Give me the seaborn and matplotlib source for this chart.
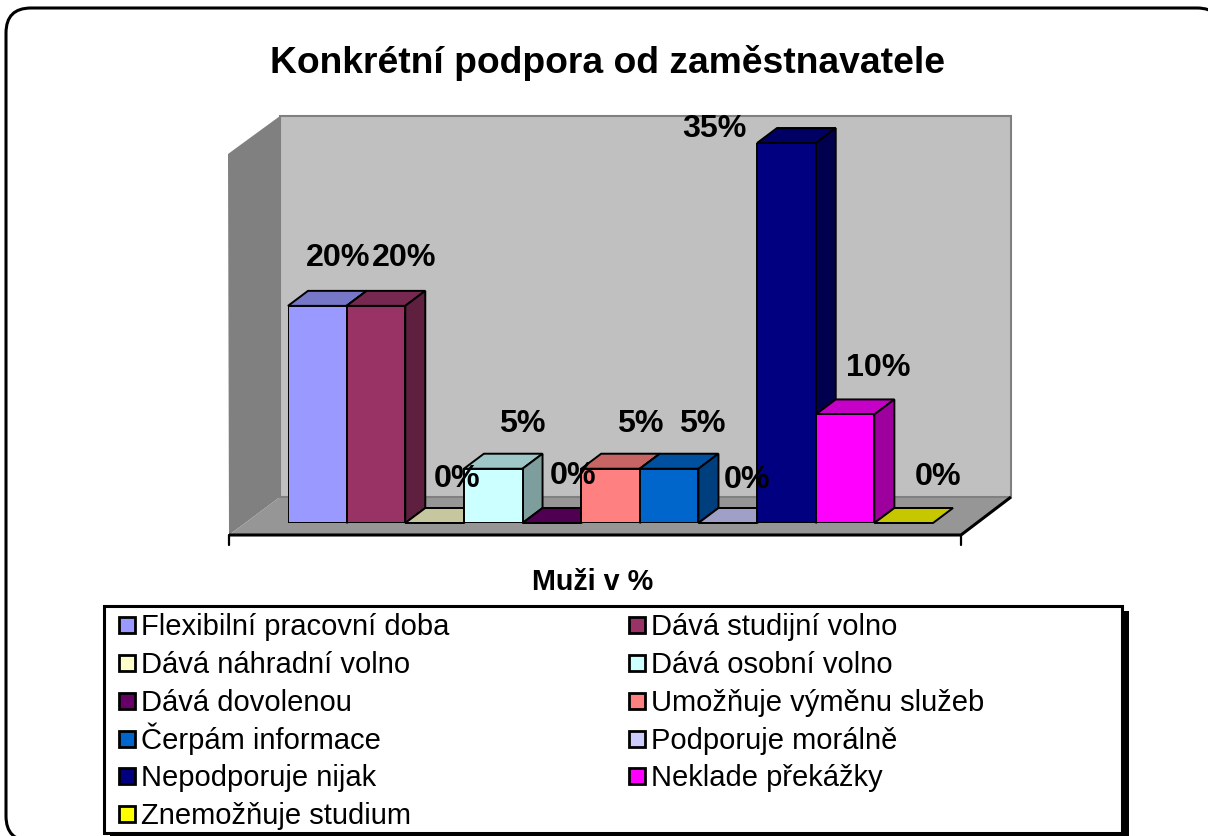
import matplotlib
matplotlib.use('Agg')
import matplotlib.pyplot as plt
import matplotlib.patches as mpatches
import matplotlib.colors as mcolors
from matplotlib.legend_handler import HandlerPatch
import seaborn as sns

categories = ['Flexibilní pracovní doba', 'Dává studijní volno', 'Dává náhradní volno',
              'Dává osobní volno', 'Dává dovolenou', 'Umožňuje výměnu služeb',
              'Čerpám informace', 'Podporuje morálně', 'Nepodporuje nijak',
              'Neklade překážky', 'Znemožňuje studium']
values = [20, 20, 0, 5, 0, 5, 5, 0, 35, 10, 0]
colours = ['#9999FF', '#993366', '#FFFFCC', '#CCFFFF', '#660066', '#FF8080',
           '#0066CC', '#CCCCFF', '#000080', '#FF00FF', '#FFFF00']
title = 'Konkrétní podpora od zaměstnavatele'
xlabel = 'Muži v %'

W, H = 1208, 836
DX, DY = 20, 15  # bar depth in pixels

sns.set_theme(style='white')
plt.rcParams['font.family'] = ['Liberation Sans', 'DejaVu Sans']

fig = plt.figure(figsize=(W / 100, H / 100), dpi=100, facecolor='white')

# chart furniture, in pixel coordinates with y going down
bg = fig.add_axes([0, 0, 1, 1])
bg.set_xlim(0, W)
bg.set_ylim(H, 0)
bg.axis('off')
bg.add_patch(mpatches.FancyBboxPatch((6, 8), 1216, 833, boxstyle='round,pad=0,rounding_size=25',
                                     fc='white', ec='black', lw=2.2))
bg.add_patch(mpatches.Polygon([(228, 154), (280, 116), (280, 497), (229, 535)], fc='#808080', ec='none'))
bg.add_patch(mpatches.Polygon([(229, 535), (280, 497), (1011, 497), (961, 535)], fc='#969696', ec='none'))
bg.add_patch(mpatches.Rectangle((280, 116), 731, 381, fc='#C0C0C0', ec='#808080', lw=1.5))
bg.plot([229, 961, 1011], [535, 535, 497], color='black', lw=2.2, solid_capstyle='butt')
bg.plot([229, 229], [535, 545], color='black', lw=1.6)
bg.plot([961, 961], [535, 545], color='black', lw=1.6)
# legend box and its shadow
bg.add_patch(mpatches.Rectangle((110, 611), 1019, 230, fc='black', ec='none'))
bg.add_patch(mpatches.Rectangle((104, 606), 1018, 227, fc='white', ec='black', lw=2.2))

# bars: category 0 starts at 288 px, 35 % reaches 143 px, base at 523 px
ax = fig.add_axes([288 / W, 1 - 523 / H, 645 / W, 380 / H])
ax.patch.set_alpha(0)
sns.barplot(x=categories, y=values, hue=categories, palette=colours, dodge=False, width=1,
            saturation=1, edgecolor='black', linewidth=1.4, legend=False, ax=ax)
ax.set_xlim(-0.5, 10.5)
ax.set_ylim(0, 35)
ax.axis('off')

ddx = DX * 11 / 645
ddy = DY * 35 / 380


def shade(colour, k):
    r, g, b = mcolors.to_rgb(colour)
    return (r * k, g * k, b * k)


for i, (patch, colour) in enumerate(zip(ax.patches, colours)):
    x0, x1 = patch.get_x(), patch.get_x() + patch.get_width()
    top = patch.get_height()
    patch.set_zorder(3 + i * 3)
    ax.add_patch(mpatches.Polygon([(x0, top), (x0 + ddx, top + ddy), (x1 + ddx, top + ddy), (x1, top)],
                                  fc=shade(colour, 0.78), ec='black', lw=1.4, clip_on=False, zorder=1 + i * 3))
    if top > 0:
        ax.add_patch(mpatches.Polygon([(x1, 0), (x1 + ddx, ddy), (x1 + ddx, top + ddy), (x1, top)],
                                      fc=shade(colour, 0.62), ec='black', lw=1.4, clip_on=False, zorder=2 + i * 3))

# data labels sit off the bars the way the original has them, offsets in pixels
label_dx = [21, 28, 22, 29, 21, 30, 33, 19, -72, 33, 34]
label_dy = [48, 48, 44, 45, 47, 45, 45, 43, 14, 46, 46]
for i, v in enumerate(values):
    ax.annotate(f'{v}%', (i, v), xytext=(label_dx[i], label_dy[i]), textcoords='offset pixels',
                ha='center', va='center', fontsize=23.2, fontweight='bold', color='black',
                annotation_clip=False, zorder=50)

fig.text(607 / W, 1 - 63 / H, title, ha='center', va='center', fontsize=26.85, fontweight='bold', color='black')
fig.text(593 / W, 1 - 582 / H, xlabel, ha='center', va='center', fontsize=20.7, fontweight='bold', color='black')


# small swatch in a tall handle box, so that the row with the caron on Č is not taller than the others
def swatch(legend, orig_handle, xdescent, ydescent, width, height, fontsize):
    return mpatches.Rectangle((-xdescent, 1.44), width, 11.52)


# matplotlib fills columns first, so reorder to get the row-wise reading of the original
order = list(range(0, 11, 2)) + list(range(1, 11, 2))
handles = [mpatches.Patch(facecolor=colours[i], edgecolor='black', linewidth=2) for i in order]
labels = [categories[i] for i in order]
bg.legend(handles, labels, ncols=2, frameon=False, loc='upper left',
          bbox_to_anchor=(119 / W, 1 - 607 / H), bbox_transform=fig.transFigure,
          fontsize=21, borderpad=0, borderaxespad=0, handlelength=0.55, handleheight=1.6,
          handletextpad=0.206, labelspacing=0.01, columnspacing=6.17, labelcolor='black',
          handler_map={mpatches.Patch: HandlerPatch(patch_func=swatch)})

fig.savefig('out.png', dpi=100)
